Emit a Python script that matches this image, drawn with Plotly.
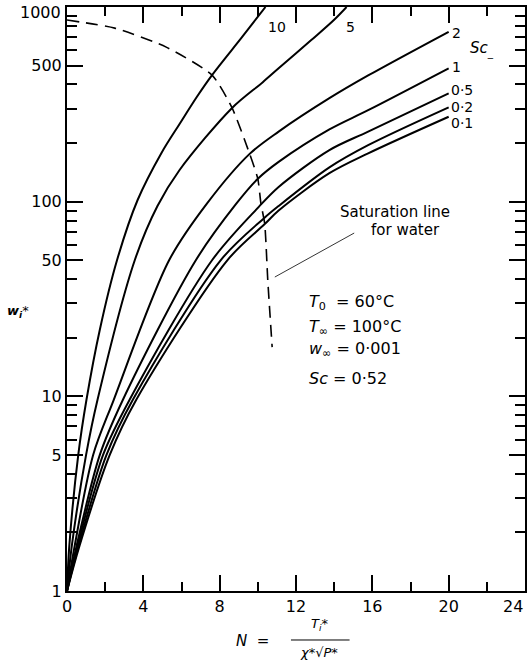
import math
import plotly.graph_objects as go

# ---- data ----
sc_labels = ["10", "5", "2", "1", "0·5", "0·2", "0·1"]

n_sc10 = [0, 0.12, 0.59, 1.02, 1.72, 2.62, 3.7, 4.95, 5.89, 6.8, 7.6, 9.17, 10.4]
w_sc10 = [1, 1.7, 5, 9.6, 22, 50, 102, 178, 250, 345, 447, 700, 1000]

n_sc5 = [0, 0.25, 1.0, 1.6, 3.55, 4.74, 5.89, 8.65, 10.26, 11.09, 12.8, 14.0, 14.65]
w_sc5 = [1, 1.7, 5, 9.6, 50, 95, 145, 303, 411, 484, 676, 860, 1000]

n_sc2 = [0, 0.4, 1.37, 2.45, 5.35, 7.34, 9.57, 11.09, 13.75, 15.78, 20]
w_sc2 = [1, 1.7, 5, 9.6, 50, 98, 176, 229, 340, 445, 746]

n_sc1 = [0, 0.5, 1.72, 2.93, 6.75, 8.85, 10.0, 11.09, 13.75, 15.78, 20]
w_sc1 = [1, 1.7, 5, 9.6, 50, 97, 131, 160, 235, 295, 484]

n_sc05 = [0, 0.55, 1.89, 3.28, 7.6, 10.05, 11.09, 13.75, 15.78, 20]
w_sc05 = [1, 1.7, 5, 9.6, 50, 94, 119, 184, 229, 360]

n_sc02 = [0, 0.6, 2.07, 3.45, 8.05, 10.31, 11.09, 13.75, 15.78, 20]
w_sc02 = [1, 1.7, 5, 9.6, 50, 82, 95, 150, 195, 305]

n_sc01 = [0, 0.65, 2.24, 3.63, 8.4, 10.36, 11.09, 13.75, 15.78, 20]
w_sc01 = [1, 1.7, 5, 9.6, 50, 76.7, 90, 140, 177, 273]

n_sat = [0, 2.5, 5.2, 7.6, 8.65, 9.57, 10.0, 10.16, 10.36, 10.52, 10.75]
w_sat = [857, 779, 622, 447, 303, 176, 131, 98, 77, 39.6, 17.9]

# pointer for the saturation-line note
n_ptr = [10.89, 15.05]
w_ptr = [41, 69]

x_ticks = [0, 4, 8, 12, 16, 20, 24]
x_tick_text = ["0", "4", "8", "12", "16", "20", ""]
x_minor = [2, 6, 10, 14, 18, 22]
y_ticks = [1, 5, 10, 50, 100, 500, 1000]
y_tick_text = ["1", "5", "10", "50", "100", "500", ""]
y_minor = [2, 3, 4, 6, 7, 8, 9, 20, 30, 40, 60, 70, 80, 90, 200, 300, 400, 600, 700, 800, 900]

curves = [
    (n_sc10, w_sc10), (n_sc5, w_sc5), (n_sc2, w_sc2), (n_sc1, w_sc1),
    (n_sc05, w_sc05), (n_sc02, w_sc02), (n_sc01, w_sc01),
]

FONT = "DejaVu Sans"

fig = go.Figure()
for (nx, wy), lab in zip(curves, sc_labels):
    fig.add_trace(go.Scatter(
        x=nx, y=wy, mode="lines", name="Sc " + lab,
        line=dict(color="black", width=2, shape="spline", smoothing=0.9),
        showlegend=False, hoverinfo="skip"))

fig.add_trace(go.Scatter(
    x=n_sat, y=w_sat, mode="lines",
    line=dict(color="black", width=1.6, dash="12px,7px", shape="spline", smoothing=0.6),
    showlegend=False, hoverinfo="skip"))

fig.add_trace(go.Scatter(
    x=n_ptr, y=w_ptr, mode="lines",
    line=dict(color="black", width=0.8),
    showlegend=False, hoverinfo="skip"))

ann = []
def add_txt(x, y, text, size=14, xanchor="left", xref="x", yref="y", yanchor="middle"):
    if yref == "y":
        y = math.log10(y)
    ann.append(dict(x=x, y=y, xref=xref, yref=yref, text=text, showarrow=False,
                    xanchor=xanchor, yanchor=yanchor,
                    font=dict(family=FONT, size=size, color="black")))

# curve labels
add_txt(10.45, 790, "10", 14)
add_txt(14.5, 790, "5", 14)
add_txt(20.05, 735, "2", 14)
add_txt(20.05, 491, "1", 14)
add_txt(20.0, 374, "0·5", 14)
add_txt(20.0, 306, "0·2", 14)
add_txt(20.0, 254, "0·1", 14)
add_txt(21.0, 610, "<i>Sc</i><sub>_</sub>", 15)

add_txt(17.2, 88.5, "Saturation line", 15, "center")
add_txt(17.75, 71.5, "for water", 15, "center")

add_txt(12.6, 30.5, "<i>T</i><sub>0</sub>  = 60°C", 16)
add_txt(12.6, 22.5, "<i>T</i><sub>∞</sub> = 100°C", 16)
add_txt(12.6, 17.4, "<i>w</i><sub>∞</sub> = 0·001", 16)
add_txt(12.6, 12.3, "<i>Sc</i> = 0·52", 16)

# end tick labels kept inside the page
add_txt(-0.009, 0.99, "1000", 16, "right", "paper", "paper")
add_txt(1.0, -0.027, "24", 16, "right", "paper", "paper")

# axis titles
add_txt(-0.107, 0.478, "<b><i>w<sub>i</sub></i></b>*", 13, "center", "paper", "paper")
add_txt(0.405, -0.0856, "<i>N</i>  =", 15, "center", "paper", "paper")
add_txt(0.552, -0.058, "<i>T<sub>i</sub></i>*", 13, "center", "paper", "paper")
add_txt(0.55, -0.105, "<i>χ</i>*√<i>P</i>*", 13, "center", "paper", "paper")

fig.update_layout(
    width=528, height=663,
    margin=dict(l=67, r=1, t=7, b=72),
    paper_bgcolor="white", plot_bgcolor="white",
    font=dict(family=FONT, size=16, color="black"),
    annotations=ann,
    shapes=[dict(type="line", xref="paper", yref="paper",
                 x0=0.489, x1=0.617, y0=-0.0839, y1=-0.0839,
                 line=dict(color="black", width=1))],
)

fig.update_xaxes(
    range=[0, 24], tickmode="array", tickvals=x_ticks, ticktext=x_tick_text,
    ticks="inside", ticklen=16, tickwidth=1.5, tickcolor="black",
    showline=True, linecolor="black", linewidth=2, mirror="ticks",
    showgrid=False, zeroline=False,
    tickfont=dict(family=FONT, size=16),
    minor=dict(tickvals=x_minor, ticks="inside", ticklen=9, tickwidth=1.5,
               tickcolor="black", showgrid=False),
)
fig.update_yaxes(
    type="log", range=[0, 3], tickmode="array", tickvals=y_ticks, ticktext=y_tick_text,
    ticks="inside", ticklen=16, tickwidth=1.5, tickcolor="black",
    showline=True, linecolor="black", linewidth=2, mirror="ticks",
    showgrid=False, zeroline=False,
    tickfont=dict(family=FONT, size=16),
    minor=dict(tickvals=y_minor, ticks="inside", ticklen=10, tickwidth=1.5,
               tickcolor="black", showgrid=False),
)

fig.write_html("out.html", config={"displayModeBar": False},
               post_script="document.body.style.margin='0';document.body.style.overflow='hidden';")
